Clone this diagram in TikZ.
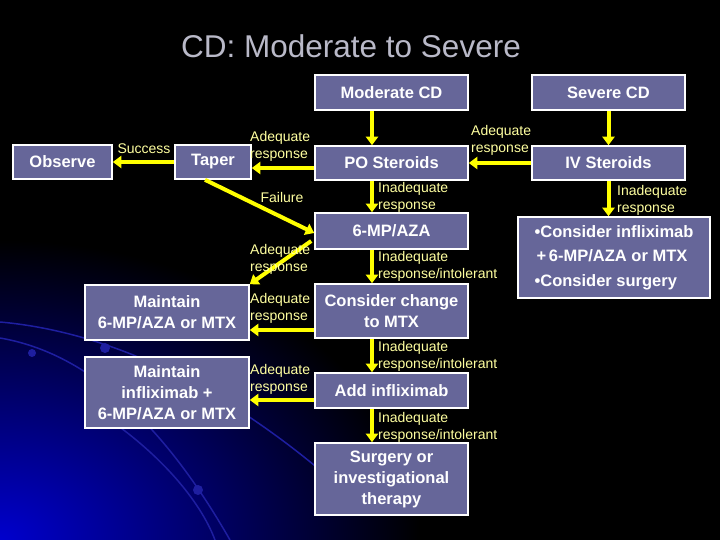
\documentclass[tikz,border=0pt]{standalone}
\usepackage{fontspec}
\setmainfont{Liberation Sans}
\usetikzlibrary{arrows.meta,calc}
\definecolor{boxc}{RGB}{102,102,153}
\definecolor{arrc}{RGB}{255,255,0}
\definecolor{labc}{RGB}{255,255,160}
\definecolor{titc}{RGB}{185,185,200}
\definecolor{glow}{RGB}{0,0,205}
\definecolor{arcc}{RGB}{30,30,160}
\pgfdeclareradialshading{glowsh}{\pgfpointorigin}{color(0bp)=(glow); color(10bp)=(glow!60!black); color(25bp)=(black); color(50bp)=(black)}
\begin{document}
\begin{tikzpicture}[x=1pt,y=-1pt,
  box/.style={draw=white, line width=1.6pt, fill=boxc, text=white,
    font=\fontsize{16.5}{21}\selectfont\bfseries, align=center, inner sep=0pt},
  arr/.style={draw=arrc, line width=4pt, -{Triangle[width=12pt,length=8.5pt]}},
  lab/.style={text=labc, font=\fontsize{14}{17}\selectfont, align=left, inner sep=0pt},
  bgarc/.style={draw=arcc, line width=1.5pt}]
\useasboundingbox (0,0) rectangle (720,540);
% background
\fill[black] (0,0) rectangle (720,540);
\begin{scope}
\clip (0,0) rectangle (720,540);
\shade[shading=glowsh] (0,540) ellipse (420pt and 300pt);
\draw[bgarc] (0,322) .. controls (90,330) and (200,370) .. (320,470);
\draw[bgarc] (0,338) .. controls (70,350) and (150,400) .. (230,540);
\draw[bgarc] (110,420) .. controls (160,455) and (200,500) .. (215,540);
\fill[arcc] (32,353) circle (4pt);
\fill[arcc] (105,348) circle (5pt);
\fill[arcc] (198,490) circle (5pt);
\end{scope}
% title
\node[text=titc, font=\fontsize{31.5}{34}\selectfont, inner sep=0pt] (title) at (351,46) {CD: Moderate to Severe};
% boxes
\node[box, minimum width=99, minimum height=34] (obs) at (62.5,162) {Observe};
\node[box, minimum width=76, minimum height=34] (taper) at (213,162) {Taper};
\node[box, minimum width=153, minimum height=35] (modcd) at (391.5,92.5) {Moderate CD};
\node[box, minimum width=153, minimum height=35] (sevcd) at (608.5,92.5) {Severe CD};
\node[box, minimum width=153, minimum height=34] (po) at (391.5,163) {PO Steroids};
\node[box, minimum width=153, minimum height=34] (iv) at (608.5,163) {IV Steroids};
\node[box, minimum width=153, minimum height=36] (mp) at (391.5,231) {6-MP/AZA};
\node[box, minimum width=192, minimum height=81, align=left, font=\fontsize{16.5}{24.5}\selectfont\bfseries] (cons) at (614,257.5)
  {\textbullet Consider infliximab\\\hspace*{2pt}+\,6-MP/AZA or MTX\\\textbullet Consider surgery};
\node[box, minimum width=164, minimum height=55] (maint1) at (167,312.5) {Maintain\\6-MP/AZA or MTX};
\node[box, minimum width=153, minimum height=54] (mtx) at (391.5,311) {Consider change\\to MTX};
\node[box, minimum width=153, minimum height=35] (add) at (391.5,390.5) {Add infliximab};
\node[box, minimum width=164, minimum height=71] (maint2) at (167,392.5) {Maintain\\infliximab +\\6-MP/AZA or MTX};
\node[box, minimum width=153, minimum height=72] (surg) at (391.5,479) {Surgery or\\investigational\\therapy};
% arrows
\draw[arr] (taper.west) -- (obs.east);
\draw[arr] ($(po.west)+(0,5)$) -- ($(taper.east)+(0,6)$);
\draw[arr] (iv.west) -- (po.east);
\draw[arr] ($(modcd.south)+(-19.5,0)$) -- ($(po.north)+(-19.5,0)$);
\draw[arr] (sevcd.south) -- (iv.north);
\draw[arr] ($(po.south)+(-19.5,0)$) -- ($(mp.north)+(-19.5,0)$);
\draw[arr] (iv.south) -- (iv.south |- cons.north);
\draw[arr] ($(taper.south)+(-8,0)$) -- ($(mp.west)+(0,2)$);
\draw[arr] ($(mp.west)+(-3,10)$) -- (maint1.north east);
\draw[arr] ($(mp.south)+(-19.5,0)$) -- ($(mtx.north)+(-19.5,0)$);
\draw[arr] ($(mtx.west)+(0,19)$) -- ($(maint1.east)+(0,17.5)$);
\draw[arr] ($(mtx.south)+(-19.5,0)$) -- ($(add.north)+(-19.5,0)$);
\draw[arr] ($(add.west)+(0,9.5)$) -- ($(maint2.east)+(0,7.5)$);
\draw[arr] ($(add.south)+(-19.5,0)$) -- ($(surg.north)+(-19.5,0)$);
% labels
\node[lab] (lsucc) at (144,149) {Success};
\node[lab, anchor=west] (lad1) at (250,146.5) {Adequate\\response};
\node[lab] (lfail) at (282,197) {Failure};
\node[lab, anchor=west] (lad2) at (471,140.5) {Adequate\\response};
\node[lab, anchor=west] (linad1) at (378,197.5) {Inadequate\\response};
\node[lab, anchor=west] (linad2) at (617,200.5) {Inadequate\\response};
\node[lab, anchor=west] (lad3) at (250,259.5) {Adequate\\response};
\node[lab, anchor=west] (linad3) at (378,266.5) {Inadequate\\response/intolerant};
\node[lab, anchor=west] (lad4) at (250,308.5) {Adequate\\response};
\node[lab, anchor=west] (linad4) at (378,356.5) {Inadequate\\response/intolerant};
\node[lab, anchor=west] (lad5) at (250,379.5) {Adequate\\response};
\node[lab, anchor=west] (linad5) at (378,427.5) {Inadequate\\response/intolerant};
\end{tikzpicture}
\end{document}
